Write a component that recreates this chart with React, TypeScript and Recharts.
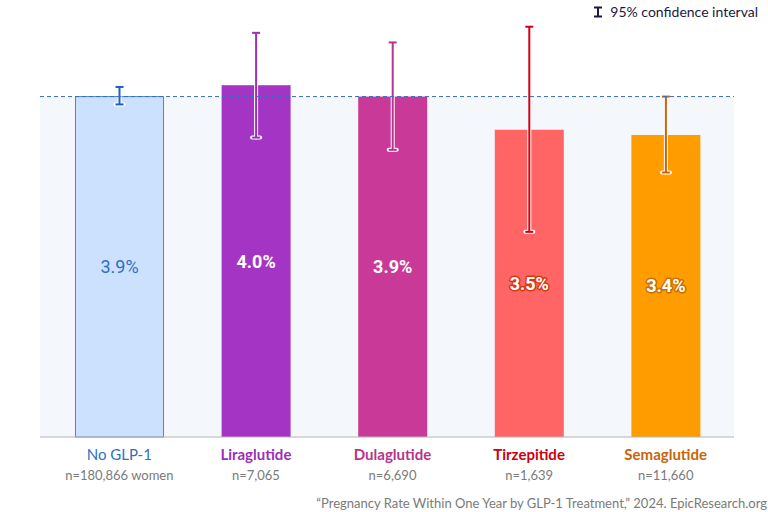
import { BarChart, Bar, XAxis, YAxis, ReferenceLine, CartesianGrid, LabelList } from "recharts";

const treatments = ["No GLP-1", "Liraglutide", "Dulaglutide", "Tirzepitide", "Semaglutide"];
const sampleSizes = ["n=180,866 women", "n=7,065", "n=6,690", "n=1,639", "n=11,660"];
const rates = [3.9, 4.03, 3.9, 3.52, 3.46];
const rateLabels = ["3.9%", "4.0%", "3.9%", "3.5%", "3.4%"];
const ciLow = [3.81, 3.43, 3.29, 2.35, 3.03];
const ciHigh = [4.01, 4.63, 4.52, 4.7, 3.9];
const baselineRate = 3.9;

const barFill = ["#cce1fd", "#a435c4", "#c93a98", "#ff6565", "#ff9c00"];
const errColor = ["#1f5fc4", "#9a30b8", "#b8338a", "#d20012", "#c8650a"];
const nameColor = ["#2f6fc4", "#9a30b8", "#b8338a", "#cc0010", "#c8650a"];
const labelFill = ["#2f6fc4", "#ffffff", "#ffffff", "#ffffff", "#ffffff"];
const labelHalo = ["none", "none", "none", "#d8380e", "#c87000"];

const data = treatments.map((name, i) => ({
  name,
  n: sampleSizes[i],
  rate: rates[i],
  label: rateLabels[i],
  low: ciLow[i],
  high: ciHigh[i],
  idx: i,
}));

function BarWithError(props: any) {
  const { x, y, width, height, payload } = props;
  const i = payload.idx;
  const base = y + height;
  const perUnit = height / payload.rate;
  const yLow = base - payload.low * perUnit;
  const yHigh = base - payload.high * perUnit;
  const cx = x + width / 2;
  const w = i === 0 ? 88 : width;
  const c = errColor[i];
  return (
    <g>
      <rect
        x={cx - w / 2}
        y={y}
        width={w}
        height={height}
        fill={barFill[i]}
        stroke={i === 0 ? "#4a86d8" : "none"}
        strokeWidth={1}
      />
      <g stroke="#ffffff" strokeWidth={4} strokeLinecap="round">
        <line x1={cx} x2={cx} y1={yHigh} y2={yLow} />
        <line x1={cx - 4} x2={cx + 4} y1={yHigh} y2={yHigh} />
        <line x1={cx - 4} x2={cx + 4} y1={yLow} y2={yLow} />
      </g>
      <g stroke={c} strokeWidth={2}>
        <line x1={cx} x2={cx} y1={yHigh} y2={yLow} />
        <line x1={cx - 4} x2={cx + 4} y1={yHigh} y2={yHigh} />
        <line x1={cx - 4} x2={cx + 4} y1={yLow} y2={yLow} />
      </g>
    </g>
  );
}

function ValueLabel(props: any) {
  const { x, y, width, height, value, index } = props;
  return (
    <text
      x={x + width / 2}
      y={y + height / 2}
      textAnchor="middle"
      dominantBaseline="central"
      fontFamily="Roboto, sans-serif"
      fontSize={18}
      fontWeight={index === 0 ? 400 : 700}
      fill={labelFill[index]}
      stroke={labelHalo[index]}
      strokeWidth={labelHalo[index] === "none" ? 0 : 3}
      strokeLinejoin="round"
      paintOrder="stroke"
    >
      {value}
    </text>
  );
}

function TreatmentTick(props: any) {
  const { x, y, payload, index } = props;
  return (
    <g transform={`translate(${x},${y})`}>
      <text
        y={15}
        textAnchor="middle"
        fontFamily="Lato, sans-serif"
        fontSize={15}
        fontWeight={index === 0 ? 400 : 700}
        fill={nameColor[index]}
      >
        {payload.value}
      </text>
      <text y={35} textAnchor="middle" fontFamily="Lato, sans-serif" fontSize={13} fill="#7a7a7a">
        {sampleSizes[index]}
      </text>
    </g>
  );
}

export default function App() {
  return (
    <div style={{ position: "absolute", left: 0, top: 0, width: 768, height: 512, background: "#fff" }}>
      <BarChart
        width={768}
        height={512}
        data={data}
        margin={{ top: 18, right: 34, left: 40, bottom: 0 }}
        barSize={69}
      >
        <CartesianGrid
          vertical={false}
          stroke="none"
          horizontalFill={["transparent", "#f4f8fd"]}
          fillOpacity={1}
        />
        <XAxis
          dataKey="name"
          tick={<TreatmentTick />}
          tickLine={false}
          axisLine={{ stroke: "#b4b4b4" }}
          interval={0}
          padding={{ left: 11, right: 0 }}
          height={75}
        />
        <YAxis hide domain={[0, 4.8]} ticks={[0, baselineRate]} />
        <ReferenceLine y={baselineRate} stroke="#3a6cc0" strokeDasharray="4 3" strokeWidth={1} />
        <Bar dataKey="rate" shape={<BarWithError />} isAnimationActive={false}>
          <LabelList dataKey="label" content={<ValueLabel />} />
        </Bar>
      </BarChart>
      <div
        style={{
          position: "absolute",
          right: 10,
          top: 3,
          fontFamily: "Lato, sans-serif",
          fontSize: 14,
          color: "#1a1a40",
          display: "flex",
          alignItems: "center",
          gap: 7,
        }}
      >
        <svg width={10} height={12}>
          <g stroke="#1a1a40" strokeWidth={2}>
            <line x1={5} x2={5} y1={1} y2={11} />
            <line x1={1} x2={9} y1={1.5} y2={1.5} />
            <line x1={1} x2={9} y1={10.5} y2={10.5} />
          </g>
        </svg>
        <span>95% confidence interval</span>
      </div>
      <div
        style={{
          position: "absolute",
          right: 1,
          top: 495,
          fontFamily: "Lato, sans-serif",
          fontSize: 13,
          color: "#7a7a7a",
          whiteSpace: "nowrap",
        }}
      >
        “Pregnancy Rate Within One Year by GLP-1 Treatment,” 2024. EpicResearch.org
      </div>
    </div>
  );
}
